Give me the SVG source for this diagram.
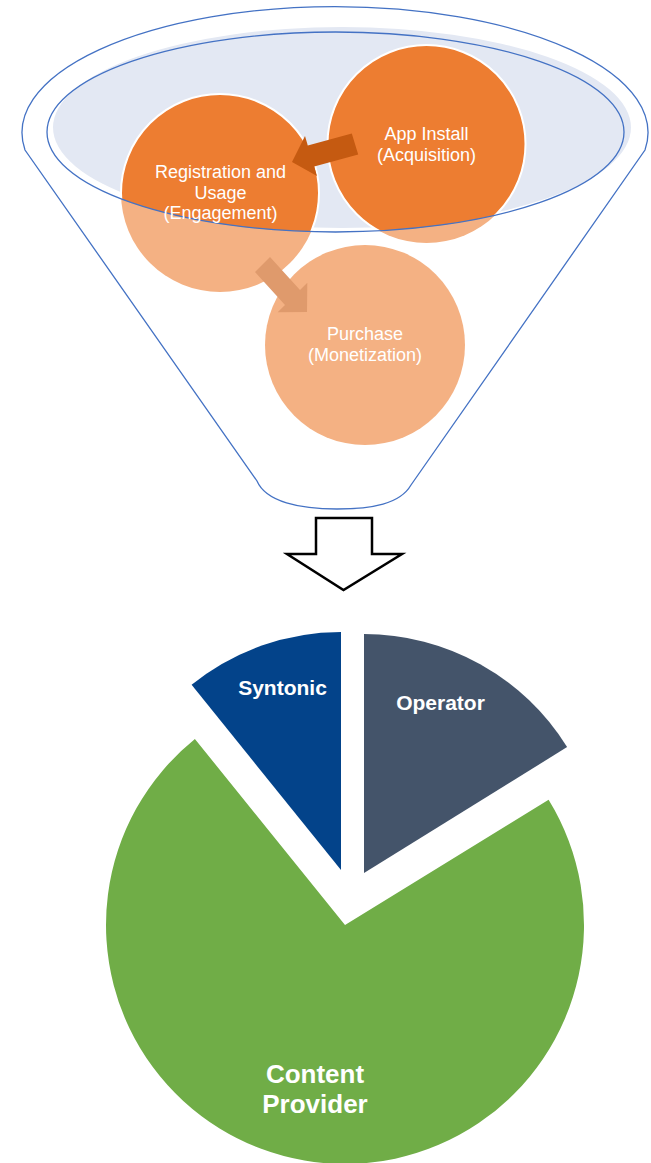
<svg xmlns="http://www.w3.org/2000/svg" width="651" height="1163" viewBox="0 0 651 1163">
  <style>
    .line { fill: none; stroke: #4472C4; stroke-width: 1.3; }
    .dark { fill: #ED7D31; }
    .light { fill: #F4B183; }
    .ring { fill: none; stroke: #FFFFFF; stroke-width: 2; }
    .ftxt { font-family: "Liberation Sans", Arial, sans-serif; font-size: 18px; fill: #FFFFFF; text-anchor: middle; }
    .ptxt { font-family: "Liberation Sans", Arial, sans-serif; font-weight: bold; fill: #FFFFFF; text-anchor: middle; }
  </style>
  <defs>
    <clipPath id="funnelTop">
      <ellipse cx="335.5" cy="132" rx="288.5" ry="100"/>
    </clipPath>
  </defs>
  <rect width="651" height="1163" fill="#FFFFFF"/>

  <g id="funnel">
    <path class="line" d="M25,150 A313,126 0 1 1 645,150 L411,485 C400,504 372,509 337,509 C300,509 266,502 257,481 Z"/>
    <ellipse cx="342" cy="127.5" rx="289" ry="100.5" fill="#E3E8F3"/>
  </g>

  <g id="node-app-install">
    <circle class="light" cx="426.5" cy="144" r="99"/>
    <g clip-path="url(#funnelTop)">
      <circle class="dark" cx="426.5" cy="144" r="99"/>
      <circle class="ring" cx="426.5" cy="144" r="99"/>
    </g>
  </g>

  <g id="node-registration">
    <circle class="light" cx="220" cy="193" r="99"/>
    <g clip-path="url(#funnelTop)">
      <circle class="dark" cx="220" cy="193" r="99"/>
      <circle class="ring" cx="220" cy="193" r="99"/>
    </g>
  </g>

  <g id="node-purchase">
    <circle class="light" cx="365" cy="345" r="100"/>
  </g>

  <g id="funnel-rim">
    <ellipse class="line" cx="335.5" cy="132" rx="288.5" ry="100"/>
  </g>

  <g id="connectors">
    <polygon fill="#C55A11" points="351.8,133.5 358.2,154.5 314.2,166.5 317,176 292,162 305,136 307.8,145.5"/>
    <polygon fill="#DF9A6C" points="255,272 270,257 300,290 307.3,282.7 307,312 277.7,312.3 285,305"/>
    <polygon fill="#FFFFFF" stroke="#000000" stroke-width="2.5" stroke-linejoin="miter" points="316,518 372,518 372,554 402,554 343.5,590 287,554 316,554"/>
  </g>

  <g id="labels-funnel">
    <text class="ftxt" x="426.5" y="140">App Install</text>
    <text class="ftxt" x="426.5" y="161">(Acquisition)</text>
    <text class="ftxt" x="220.5" y="178">Registration and</text>
    <text class="ftxt" x="220.5" y="198.5">Usage</text>
    <text class="ftxt" x="220.5" y="219">(Engagement)</text>
    <text class="ftxt" x="365" y="340">Purchase</text>
    <text class="ftxt" x="365" y="361">(Monetization)</text>
  </g>

  <g id="node-syntonic">
    <path fill="#03438A" d="M341,870 L341,632 A238,238 0 0 0 191.6,684.8 Z"/>
    <text class="ptxt" x="282.5" y="695" font-size="21">Syntonic</text>
  </g>

  <g id="node-operator">
    <path fill="#44546A" d="M364,873 L364,634 A239,239 0 0 1 567.1,747.1 Z"/>
    <text class="ptxt" x="440.5" y="710" font-size="21">Operator</text>
  </g>

  <g id="node-content-provider">
    <path fill="#70AD47" d="M345,925 L548.6,799.8 A239,239 0 1 1 194.9,739 Z"/>
    <text class="ptxt" x="315" y="1083" font-size="26">Content</text>
    <text class="ptxt" x="315" y="1113" font-size="26">Provider</text>
  </g>
</svg>
